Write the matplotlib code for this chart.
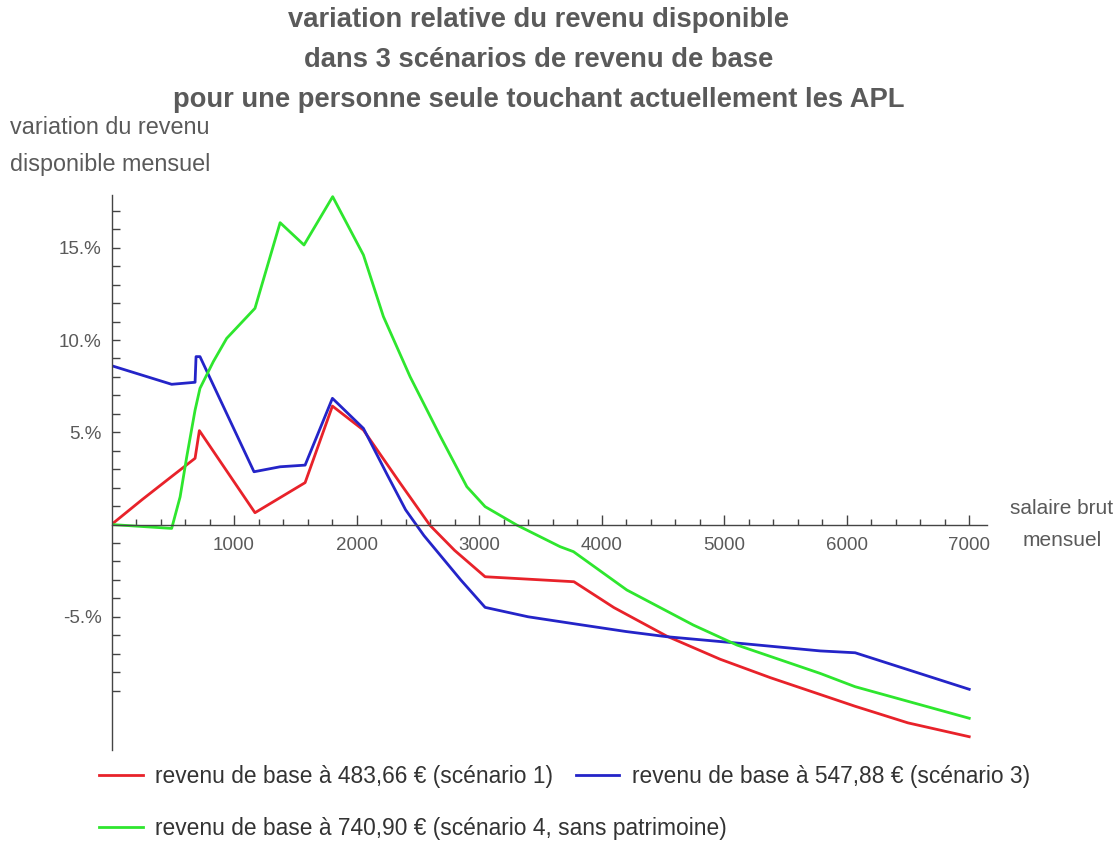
import numpy as np
import matplotlib.pyplot as plt
from matplotlib.ticker import FixedLocator, FixedFormatter

plt.rcParams['font.family'] = ['Liberation Sans', 'DejaVu Sans']

# salaire brut mensuel (x) et variation relative du revenu disponible en % (y)
x_s1 = [0, 250, 500, 682, 717, 1171, 1580, 1803, 2056, 2355, 2600, 2800, 3049,
        3774, 4100, 4532, 4967, 5377, 6069, 6500, 7000]
y_s1 = [0, 1.35, 2.65, 3.59, 5.09, 0.64, 2.27, 6.42, 5.12, 2.25, -0.05, -1.4, -2.83,
        -3.10, -4.5, -6.05, -7.3, -8.3, -9.85, -10.75, -11.5]

x_s3 = [0, 491, 682, 690, 722, 1163, 1376, 1580, 1803, 2056, 2250, 2400, 2550, 2700,
        2850, 3049, 3400, 3797, 4200, 4532, 5131, 5784, 6069, 7000]
y_s3 = [8.61, 7.60, 7.71, 9.10, 9.10, 2.86, 3.13, 3.22, 6.84, 5.21, 2.7, 0.8, -0.6, -1.8,
        -3.0, -4.49, -5.0, -5.4, -5.8, -6.08, -6.44, -6.85, -6.95, -8.93]

x_s4 = [0, 491, 560, 614, 682, 722, 831, 940, 1171, 1376, 1571, 1805, 2056, 2219,
        2437, 2682, 2900, 3049, 3308, 3661, 3770, 4206, 4749, 5104, 5784, 6069, 7000]
y_s4 = [0, -0.21, 1.5, 3.67, 6.2, 7.38, 8.83, 10.09, 11.72, 16.36, 15.15, 17.77, 14.61, 11.27,
        8.01, 4.8, 2.05, 0.97, -0.03, -1.2, -1.47, -3.55, -5.45, -6.53, -8.07, -8.79, -10.5]

labels = ["revenu de base à 483,66 € (scénario 1)",
          "revenu de base à 547,88 € (scénario 3)",
          "revenu de base à 740,90 € (scénario 4, sans patrimoine)"]
colors = ['#e8222a', '#2424c8', '#2ee62e']

title_lines = ["variation relative du revenu disponible",
               "dans 3 scénarios de revenu de base",
               "pour une personne seule touchant actuellement les APL"]

y_major = [-5, 5, 10, 15]
y_major_labels = ['-5.%', '5.%', '10.%', '15.%']
x_major = [1000, 2000, 3000, 4000, 5000, 6000, 7000]

W, H = 1119, 846
grey = '#5a5a5a'

fig = plt.figure(figsize=(W / 100, H / 100), dpi=100)
ax = fig.add_axes([111.5 / W, 1 - 750 / H, (987 - 111.5) / W, (750 - 195) / H])

h1, = ax.plot(x_s1, y_s1, color=colors[0], lw=2.0)
h3, = ax.plot(x_s3, y_s3, color=colors[1], lw=2.0)
h4, = ax.plot(x_s4, y_s4, color=colors[2], lw=2.0)

ax.set_xlim(0, 7145)
ax.set_ylim(-12.22, 17.86)

for s in ['top', 'right']:
    ax.spines[s].set_visible(False)
ax.spines['bottom'].set_position(('data', 0))
for s in ['left', 'bottom']:
    ax.spines[s].set_color('#444444')
    ax.spines[s].set_linewidth(1.0)

ax.xaxis.set_major_locator(FixedLocator(x_major))
ax.xaxis.set_major_formatter(FixedFormatter([str(v) for v in x_major]))
ax.xaxis.set_minor_locator(FixedLocator([v for v in range(200, 7001, 200) if v % 1000]))
ax.yaxis.set_major_locator(FixedLocator(y_major))
ax.yaxis.set_major_formatter(FixedFormatter(y_major_labels))
ax.yaxis.set_minor_locator(FixedLocator([v for v in range(-9, 18) if v not in y_major and v != 0]))

ax.tick_params(axis='x', which='major', direction='in', length=7, width=1, color='#444444',
               labelsize=13.5, labelcolor=grey, pad=9)
ax.tick_params(axis='x', which='minor', direction='in', length=4, width=1, color='#444444')
ax.tick_params(axis='y', which='both', direction='in', length=6, width=1, color='#444444',
               labelsize=13.5, labelcolor=grey, pad=7)

for i, line in enumerate(title_lines):
    fig.text(539 / W, 1 - (20 + 40 * i) / H, line, ha='center', va='center',
             fontsize=19.7, fontweight='bold', color=grey)

fig.text(10 / W, 1 - 128 / H, "variation du revenu", ha='left', va='center', fontsize=16.8, color=grey)
fig.text(10 / W, 1 - 165 / H, "disponible mensuel", ha='left', va='center', fontsize=16.8, color=grey)
fig.text(1062 / W, 1 - 508 / H, "salaire brut", ha='center', va='center', fontsize=15, color=grey)
fig.text(1062 / W, 1 - 541 / H, "mensuel", ha='center', va='center', fontsize=15, color=grey)

leg_kw = dict(loc='center left', frameon=False, borderpad=0, handlelength=1.9,
              handletextpad=0.55, columnspacing=1.0, fontsize=16.4, labelcolor='#333333')
fig.legend([h1, h3], [labels[0], labels[1]], ncol=2,
           bbox_to_anchor=(88 / W, 1 - 776 / H), **leg_kw)
fig.legend([h4], [labels[2]], bbox_to_anchor=(88 / W, 1 - 828 / H), **leg_kw)

plt.savefig("out.png", dpi=100)
